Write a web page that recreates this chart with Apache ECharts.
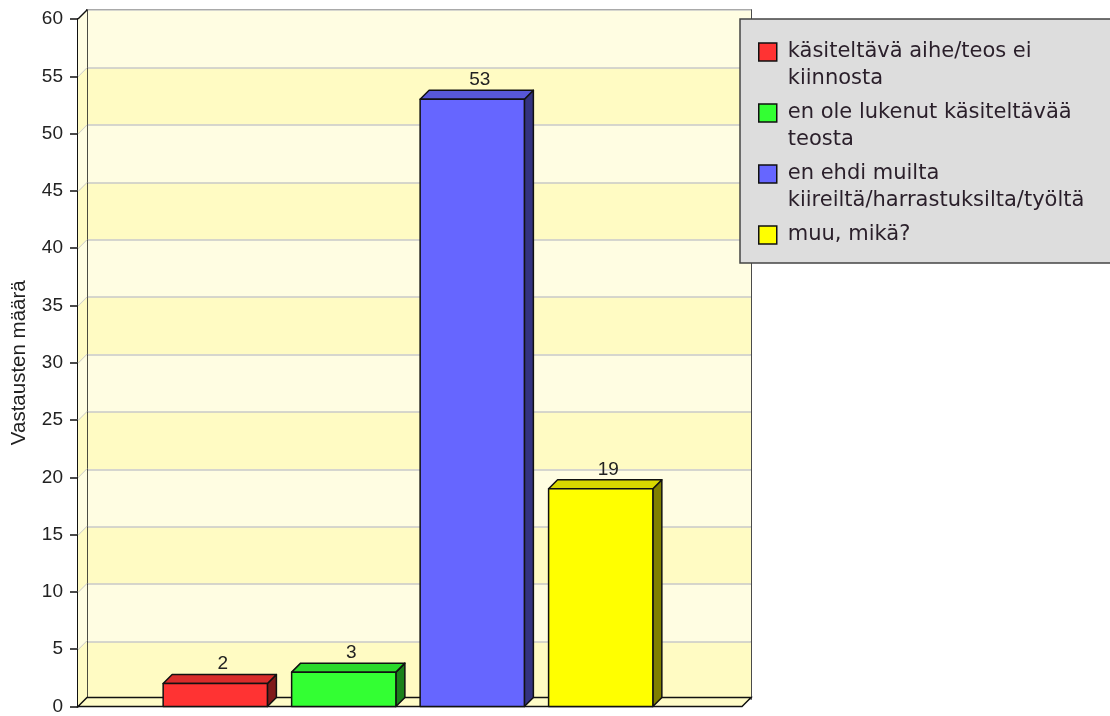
<!DOCTYPE html>
<html>
<head>
<meta charset="utf-8">
<script src="https://cdn.jsdelivr.net/npm/echarts@6/dist/echarts.min.js"></script>
<style>
  html, body { margin: 0; padding: 0; background: #fff; }
  #chart { width: 1110px; height: 716px; }
</style>
</head>
<body>
<div id="chart"></div>
<script>
// data
const categories = [''];
const seriesNames = [
  'käsiteltävä aihe/teos ei kiinnosta',
  'en ole lukenut käsiteltävää teosta',
  'en ehdi muilta kiireiltä/harrastuksilta/työltä',
  'muu, mikä?'
];
const legendLabels = [
  'käsiteltävä aihe/teos ei\nkiinnosta',
  'en ole lukenut käsiteltävää\nteosta',
  'en ehdi muilta\nkiireiltä/harrastuksilta/työltä',
  'muu, mikä?'
];
const seriesValues = [2, 3, 53, 19];
const yTicks = [0, 5, 10, 15, 20, 25, 30, 35, 40, 45, 50, 55, 60];
const yAxisName = 'Vastausten määrä';

// styles
const frontColors = ['#ff3333', '#33ff33', '#6666ff', '#ffff00'];
const topColors = ['#d92b2b', '#2bd92b', '#5757d9', '#d9d900'];
const sideColors = ['#801a1a', '#1a801a', '#333380', '#808000'];
const bandColors = ['#fffbc3', '#fffde2'];
const DEPTH = 9;
const BAR_RATIO = 0.157;
const STEP_RATIO = 0.1935;
const txtFont = 'Liberation Sans';

const chart = echarts.init(document.getElementById('chart'));

function barRenderer(idx) {
  return function (params, api) {
    const base = api.coord([api.value(0), 0]);
    const top = api.coord([api.value(0), api.value(1)]);
    const catW = api.size([1, 0])[0];
    const w = catW * BAR_RATIO;
    const cx = base[0] - 2 + (idx - 1.5) * catW * STEP_RATIO;
    const x = cx - w / 2;
    const y = top[1];
    const b = base[1];
    const D = DEPTH;
    const line = { stroke: '#111', lineWidth: 1.5, lineJoin: 'round' };
    return {
      type: 'group',
      children: [
        {
          type: 'polygon',
          shape: { points: [[x + w, y], [x + w + D, y - D], [x + w + D, b - D], [x + w, b]] },
          style: Object.assign({ fill: sideColors[idx] }, line)
        },
        {
          type: 'polygon',
          shape: { points: [[x, y], [x + D, y - D], [x + w + D, y - D], [x + w, y]] },
          style: Object.assign({ fill: topColors[idx] }, line)
        },
        {
          type: 'rect',
          shape: { x: x, y: y, width: w, height: b - y },
          style: Object.assign({ fill: frontColors[idx] }, line)
        },
        {
          type: 'text',
          x: cx + D / 2 + 3,
          y: y - D - 1,
          style: {
            text: String(api.value(1)),
            fill: '#222',
            font: '19px "' + txtFont + '"',
            align: 'center',
            verticalAlign: 'bottom'
          }
        }
      ]
    };
  };
}

function wallRenderer(params, api) {
  const cs = params.coordSys;
  const D = DEPTH;
  const v = api.value(1);
  const y0 = api.coord([0, v])[1];
  const y1 = api.coord([0, v + 5])[1];
  const left = cs.x;
  const children = [
    {
      type: 'polygon',
      shape: { points: [[left, y0], [left + D, y0 - D], [left + D, y1 - D], [left, y1]] },
      style: { fill: bandColors[params.dataIndex % 2] }
    },
    {
      type: 'line',
      shape: { x1: left, y1: y1, x2: left + D, y2: y1 - D },
      style: {
        stroke: v + 5 === yTicks[yTicks.length - 1] ? '#111' : '#c8c8c8',
        lineWidth: 1.5
      }
    }
  ];
  if (params.dataIndex === 0) {
    const b = cs.y + cs.height;
    const r = cs.x + cs.width;
    children.push({
      type: 'polygon',
      shape: { points: [[left, b], [r, b], [r + D, b - D], [left + D, b - D]] },
      style: { fill: '#fffcc8', stroke: '#111', lineWidth: 1.5 }
    });
  }
  return { type: 'group', children: children };
}

const series = [{
  name: '__walls',
  type: 'custom',
  silent: true,
  xAxisIndex: 0,
  yAxisIndex: 0,
  z: 1,
  renderItem: wallRenderer,
  data: yTicks.slice(0, -1).map(v => [0, v])
}];
seriesNames.forEach((name, i) => {
  series.push({
    name: name,
    type: 'custom',
    xAxisIndex: 0,
    yAxisIndex: 0,
    z: 3,
    itemStyle: { color: frontColors[i] },
    renderItem: barRenderer(i),
    data: [[0, seriesValues[i]]]
  });
});

// legend text: an empty first line keeps the icon level with the first text line
const labelMap = {};
seriesNames.forEach((n, i) => {
  const lbl = legendLabels[i];
  labelMap[n] = '\n' + lbl + (lbl.indexOf('\n') < 0 ? '\n' : '');
});

const option = {
  animation: false,
  backgroundColor: '#fff',
  grid: [
    { left: 78, top: 19, width: 664, height: 689, containLabel: false },
    { left: 87, top: 10, width: 664, height: 689, show: true, borderColor: '#111', borderWidth: 1.5, backgroundColor: 'transparent' }
  ],
  xAxis: [
    {
      type: 'category', gridIndex: 0, data: categories,
      axisLine: { show: false }, axisTick: { show: false }, axisLabel: { show: false }, splitLine: { show: false }
    },
    { type: 'category', gridIndex: 1, data: categories, show: false }
  ],
  yAxis: [
    {
      type: 'value', gridIndex: 0, min: 0, max: 60, interval: 5,
      name: yAxisName, nameLocation: 'middle', nameGap: 48,
      nameTextStyle: { fontFamily: txtFont, fontSize: 20.5, color: '#222' },
      axisLine: { show: true, lineStyle: { color: '#111', width: 2 } },
      axisTick: { show: true, length: 8, lineStyle: { color: '#111', width: 1.5 } },
      axisLabel: { fontFamily: txtFont, fontSize: 19, color: '#222', margin: 15 },
      splitLine: { show: false }
    },
    {
      type: 'value', gridIndex: 1, min: 0, max: 60, interval: 5,
      axisLine: { show: true, lineStyle: { color: '#111', width: 1.5 } },
      axisTick: { show: false }, axisLabel: { show: false },
      splitLine: { show: true, lineStyle: { color: '#c8c8c8', width: 1.5 } },
      splitArea: { show: true, areaStyle: { color: bandColors } }
    }
  ],
  legend: {
    orient: 'vertical',
    left: 740,
    top: 19,
    backgroundColor: '#dddddd',
    borderColor: '#444',
    borderWidth: 1.5,
    padding: [-7.5, 40, -12.5, 18],
    itemWidth: 18,
    itemHeight: 18,
    itemGap: -20,
    icon: 'rect',
    itemStyle: { borderColor: '#111', borderWidth: 1.5 },
    textStyle: { fontFamily: 'DejaVu Sans', fontSize: 21, lineHeight: 27, color: '#2a1f2a', padding: [0, 0, 0, 6] },
    formatter: name => labelMap[name],
    data: seriesNames
  },
  series: series
};

chart.setOption(option);
</script>
</body>
</html>
